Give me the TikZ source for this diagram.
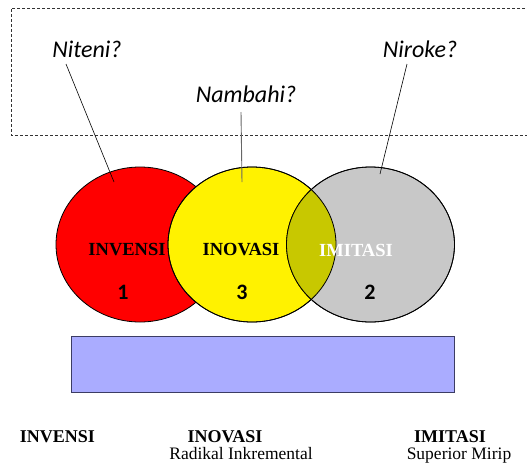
\documentclass[tikz,border=0pt]{standalone}
\usepackage{fontspec}
\setmainfont{Liberation Serif}
\newfontfamily\calib{Carlito}
\usetikzlibrary{shapes.geometric}
\definecolor{grayc}{RGB}{200,200,200}
\definecolor{olivec}{RGB}{200,200,0}
\definecolor{barfill}{RGB}{170,172,255}
\definecolor{barline}{RGB}{60,60,100}
\tikzset{
  venn/.style={ellipse, draw=black, line width=0.8pt, minimum width=168pt, minimum height=155pt, inner sep=0pt},
  qtext/.style={font=\calib\itshape\fontsize{24}{28}\selectfont, inner sep=0pt, anchor=base},
  vlabel/.style={font=\bfseries\fontsize{18.5}{22}\selectfont, inner sep=0pt},
  numlabel/.style={font=\calib\bfseries\fontsize{22}{26}\selectfont, inner sep=0pt},
  btitle/.style={font=\bfseries\fontsize{18}{22}\selectfont, inner sep=0pt, anchor=base},
  bsub/.style={font=\fontsize{17.5}{21}\selectfont, inner sep=0pt, anchor=base},
  pointer/.style={line width=0.6pt, black},
}
\begin{document}
\begin{tikzpicture}[x=1pt,y=-1pt]
\useasboundingbox (0,0) rectangle (527,472);
% dashed frame (right side runs off the picture)
\draw[line width=0.7pt, dash pattern=on 3pt off 2pt, black!80] (540,8) -- (11,8) -- (11,135) -- (540,135);
% circles
\node[venn, fill=red] (inv) at (140,244.5) {};
\node[venn, fill=yellow] (ino) at (252,244.5) {};
\node[venn, fill=grayc] (imi) at (370.5,244.5) {};
\begin{scope}
  \clip (252,244.5) ellipse [x radius=84, y radius=77.5];
  \fill[olivec] (370.5,244.5) ellipse [x radius=84, y radius=77.5];
\end{scope}
\draw[line width=0.8pt] (252,244.5) ellipse [x radius=84, y radius=77.5];
\draw[line width=0.8pt] (370.5,244.5) ellipse [x radius=84, y radius=77.5];
% labels in circles
\node[vlabel] (linv) at (127,250) {INVENSI};
\node[vlabel] (lino) at (241,250) {INOVASI};
\node[vlabel, text=white] (limi) at (356,250) {IMITASI};
\node[numlabel] (n1) at (123,292) {1};
\node[numlabel] (n3) at (242,292) {3};
\node[numlabel] (n2) at (370,292) {2};
% questions
\node[qtext] (qnit) at (87,57) {Niteni?};
\node[qtext] (qnam) at (246,102) {Nambahi?};
\node[qtext] (qnir) at (420,57) {Niroke?};
\coordinate (snit) at (66,64);
\coordinate (snam) at (241,112);
\coordinate (snir) at (407,64);
\coordinate (pnit) at (114,182);
\coordinate (pnam) at (242,182);
\coordinate (pnir) at (380,174);
\draw[pointer] (snit) -- (pnit);
\draw[line width=0.9pt, black!60] (snam) -- (pnam);
\draw[pointer] (snir) -- (pnir);
% bar
\node[draw=barline, fill=barfill, line width=0.8pt, minimum width=383pt, minimum height=56pt, inner sep=0pt, anchor=north west] (bar) at (71,336) {};
% bottom texts
\node[btitle] (binv) at (57.5,442.5) {INVENSI};
\node[btitle] (bino) at (225,442.5) {INOVASI};
\node[bsub] (bino2) at (241,459.5) {Radikal Inkremental};
\node[btitle] (bimi) at (450,442.5) {IMITASI};
\node[bsub] (bimi2) at (459,459.5) {Superior Mirip};
\end{tikzpicture}
\end{document}
